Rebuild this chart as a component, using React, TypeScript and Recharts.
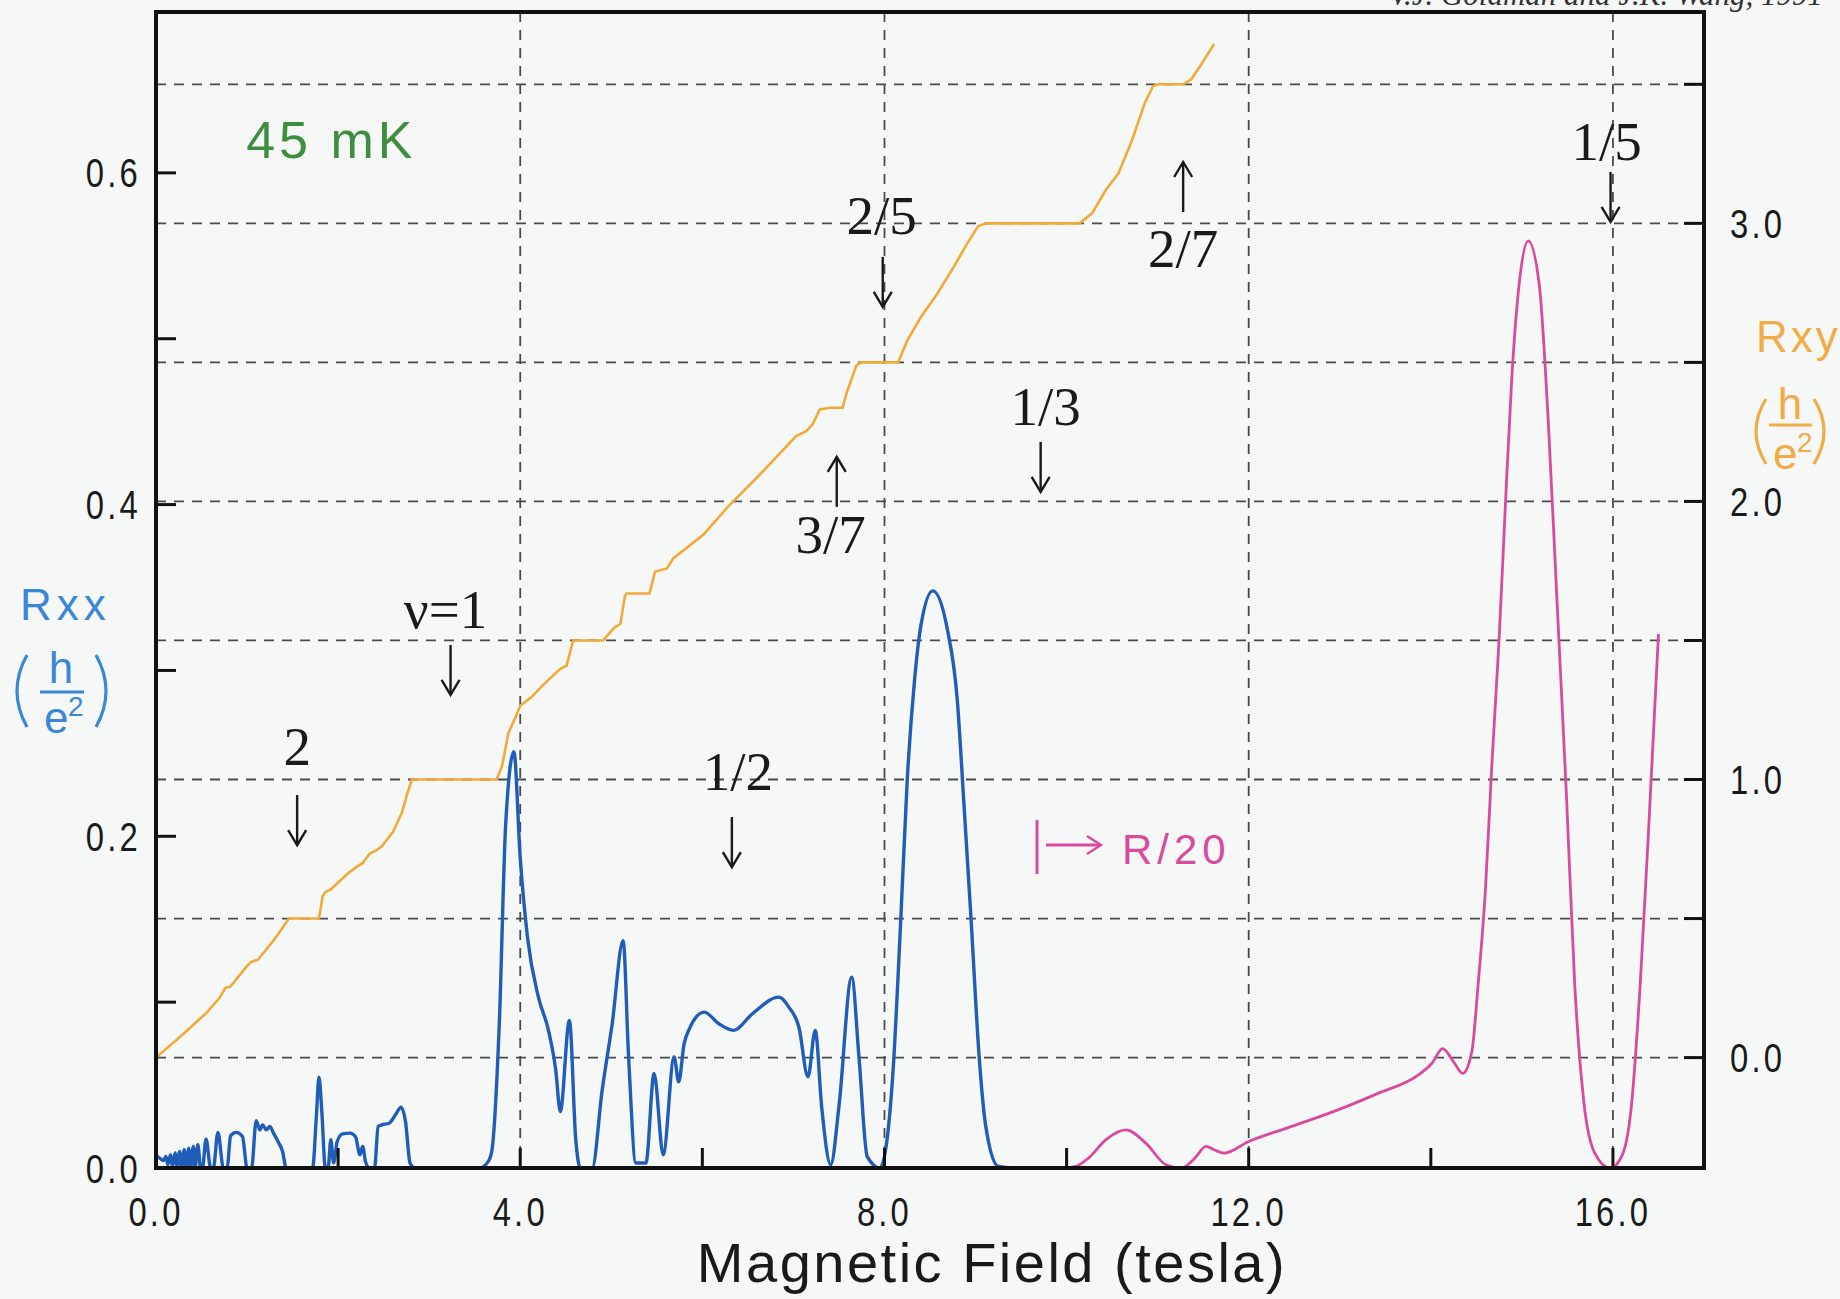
import { LineChart, Line, XAxis, YAxis, CartesianGrid, ReferenceDot } from "recharts";

// Rxx (h/e^2), tesla -> value, left axis
const RXX: [number, number][] = [
  [0.0, 0.0075], [0.04, 0.006], [0.08, 0.0045], [0.11, 0.007], [0.13, 0.002], [0.16, 0.008], [0.18, 0.001],
  [0.21, 0.009], [0.23, 0.001], [0.26, 0.01], [0.28, 0.0], [0.31, 0.011], [0.33, 0.0], [0.36, 0.012],
  [0.38, 0.0], [0.41, 0.013], [0.43, 0.0], [0.46, 0.014], [0.49, 0.0], [0.51, 0.0], [0.55, 0.0175],
  [0.6, 0.0], [0.63, 0.0], [0.68, 0.0215], [0.74, 0.0], [0.78, 0.0], [0.82, 0.0195], [0.88, 0.0215],
  [0.95, 0.019], [1.0, 0.0], [1.05, 0.0], [1.1, 0.0285], [1.14, 0.023], [1.17, 0.026], [1.21, 0.023],
  [1.25, 0.025], [1.29, 0.021], [1.34, 0.016], [1.39, 0.01], [1.43, 0.0], [1.72, 0.0], [1.76, 0.03],
  [1.79, 0.0548], [1.82, 0.035], [1.86, 0.0], [1.89, 0.0], [1.92, 0.017], [1.95, 0.003], [1.99, 0.016],
  [2.05, 0.0206], [2.13, 0.021], [2.19, 0.019], [2.24, 0.008], [2.27, 0.013], [2.3, 0.004], [2.34, 0.0],
  [2.4, 0.0], [2.44, 0.025], [2.48, 0.026], [2.56, 0.027], [2.64, 0.033], [2.69, 0.0367], [2.74, 0.028],
  [2.79, 0.003], [2.84, 0.0], [3.55, 0.0], [3.65, 0.004], [3.69, 0.011], [3.77, 0.087], [3.84, 0.207],
  [3.93, 0.251], [4.0, 0.187], [4.08, 0.139], [4.2, 0.103], [4.31, 0.083], [4.39, 0.059], [4.44, 0.034],
  [4.54, 0.089], [4.61, 0.017], [4.66, 0.0], [4.79, 0.0], [4.9, 0.047], [5.01, 0.087], [5.13, 0.137],
  [5.19, 0.067], [5.27, 0.003], [5.38, 0.003], [5.47, 0.057], [5.57, 0.008], [5.69, 0.067], [5.74, 0.052],
  [5.8, 0.075], [5.85, 0.083], [6.02, 0.094], [6.18, 0.087], [6.34, 0.083], [6.55, 0.093], [6.84, 0.103],
  [6.95, 0.097], [7.06, 0.085], [7.16, 0.055], [7.24, 0.083], [7.31, 0.037], [7.41, 0.002], [7.5, 0.037],
  [7.64, 0.115], [7.72, 0.067], [7.81, 0.007], [7.95, 0.0], [8.09, 0.055], [8.18, 0.151], [8.25, 0.234],
  [8.33, 0.294], [8.4, 0.327], [8.53, 0.348], [8.69, 0.325], [8.8, 0.282], [8.87, 0.222], [8.95, 0.151],
  [9.04, 0.067], [9.11, 0.026], [9.25, 0.001], [9.45, 0.0],
];

// Rxx / 20 above ~9.5 T, left axis
const RXX_OVER_20: [number, number][] = [
  [9.45, 0.0], [9.95, 0.0], [10.1, 0.001], [10.24, 0.006], [10.43, 0.017], [10.65, 0.023], [10.87, 0.015],
  [11.09, 0.002], [11.26, 0.0], [11.41, 0.006], [11.53, 0.013], [11.62, 0.011], [11.73, 0.009], [12.0, 0.016],
  [12.44, 0.0245], [12.93, 0.034], [13.42, 0.045], [13.86, 0.056], [14.01, 0.063], [14.13, 0.072],
  [14.25, 0.064], [14.35, 0.057], [14.45, 0.07], [14.52, 0.111], [14.6, 0.168], [14.67, 0.243],
  [14.75, 0.319], [14.82, 0.401], [14.89, 0.477], [14.97, 0.533], [15.07, 0.559], [15.19, 0.533],
  [15.29, 0.45], [15.39, 0.337], [15.49, 0.224], [15.58, 0.111], [15.68, 0.04], [15.8, 0.009],
  [15.97, 0.0], [16.1, 0.0075], [16.2, 0.036], [16.3, 0.111], [16.4, 0.213], [16.5, 0.322],
];

// Rxy (h/e^2), right axis
const RXY: [number, number][] = [
  [0.0, 0.0], [0.3, 0.085], [0.55, 0.16], [0.7, 0.215], [0.76, 0.25], [0.82, 0.256], [1.0, 0.33],
  [1.05, 0.345], [1.12, 0.352], [1.3, 0.425], [1.46, 0.5], [1.79, 0.5], [1.83, 0.58], [1.86, 0.595],
  [1.92, 0.605], [2.1, 0.66], [2.2, 0.685], [2.27, 0.7], [2.35, 0.735], [2.42, 0.745], [2.48, 0.76],
  [2.6, 0.81], [2.7, 0.88], [2.76, 0.95], [2.81, 1.0], [3.74, 1.0], [3.8, 1.048], [3.87, 1.167],
  [3.95, 1.226], [4.0, 1.265], [4.13, 1.298], [4.26, 1.343], [4.44, 1.398], [4.51, 1.41], [4.58, 1.5],
  [4.91, 1.5], [4.99, 1.53], [5.03, 1.545], [5.1, 1.56], [5.15, 1.66], [5.17, 1.669], [5.42, 1.669],
  [5.48, 1.747], [5.61, 1.759], [5.68, 1.795], [6.01, 1.88], [6.3, 1.988], [6.63, 2.096], [7.03, 2.235],
  [7.14, 2.253], [7.21, 2.277], [7.29, 2.331], [7.4, 2.337], [7.54, 2.337], [7.58, 2.386], [7.69, 2.488],
  [7.74, 2.5], [8.15, 2.5], [8.25, 2.578], [8.4, 2.663], [8.58, 2.747], [8.76, 2.843], [8.91, 2.928],
  [9.03, 2.99], [9.12, 3.0], [10.14, 3.0], [10.28, 3.036], [10.43, 3.12], [10.57, 3.18], [10.72, 3.3],
  [10.86, 3.434], [10.95, 3.494], [11.01, 3.5], [11.28, 3.5], [11.37, 3.518], [11.48, 3.572], [11.62, 3.645],
];

const X_TICKS = [0, 2, 4, 6, 8, 10, 12, 14, 16];
const X_TOP_TICKS = [2, 4, 6, 8, 10, 12, 14, 16];
const X_GRID = [4, 8, 12, 16];
const X_LABELS: Record<string, string> = { "0": "0.0", "4": "4.0", "8": "8.0", "12": "12.0", "16": "16.0" };
const LEFT_TICKS = [0, 0.1, 0.2, 0.3, 0.4, 0.5, 0.6];
const LEFT_LABELS: Record<string, string> = { "0": "0.0", "0.2": "0.2", "0.4": "0.4", "0.6": "0.6" };
const RIGHT_TICKS = [0, 0.5, 1, 1.5, 2, 2.5, 3, 3.5];
const RIGHT_LABELS: Record<string, string> = { "0": "0.0", "1": "1.0", "2": "2.0", "3": "3.0" };

// filling-factor labels: x in tesla, y = baseline in Rxy units
const ANNOTATIONS = [
  { text: "2", x: 1.55, y: 1.052, arrow: "down", gap: 30, dx: 0 },
  { text: "\u03bd=1", x: 3.18, y: 1.545, arrow: "down", gap: 17, dx: 5 },
  { text: "1/2", x: 6.39, y: 0.962, arrow: "down", gap: 27, dx: -6 },
  { text: "3/7", x: 7.41, y: 1.815, arrow: "up", gap: 46, dx: 6 },
  { text: "2/5", x: 7.97, y: 2.962, arrow: "down", gap: 23, dx: 1 },
  { text: "1/3", x: 9.77, y: 2.275, arrow: "down", gap: 17, dx: -5 },
  { text: "2/7", x: 11.28, y: 2.843, arrow: "up", gap: 55, dx: 0 },
  { text: "1/5", x: 15.93, y: 3.228, arrow: "down", gap: 12, dx: 4 },
];

const BLUE = "#1f5db8";
const ORANGE = "#f3a938";
const MAGENTA = "#d94a9f";
const GREEN = "#3f8e3f";
const LABEL_BLUE = "#3a87d8";
const LABEL_ORANGE = "#f2ab45";
const INK = "#1a1a1a";
const SANS = "'Liberation Sans', Arial, Helvetica, sans-serif";
const SERIF = "'Liberation Serif', 'Times New Roman', serif";

const toRows = (pts: [number, number][]) => pts.map(([b, v]) => ({ b, v }));
const key = (v: number) => String(Math.round(v * 10) / 10);

const axisLine = { stroke: "#111", strokeWidth: 4, strokeLinecap: "square" as const };
const tickLine = { stroke: "#111", strokeWidth: 3 };

// condensed tick labels, like the Helvetica Narrow of the original
function makeTick(labels: Record<string, string>, anchor: "start" | "middle" | "end", dy: string) {
  return (p: { x?: number; y?: number; payload?: { value: number } }) => {
    const text = labels[key(p.payload?.value ?? 0)] ?? "";
    if (!text) return <g />;
    return (
      <text
        transform={`translate(${p.x},${p.y}) scale(0.8,1)`}
        textAnchor={anchor}
        dy={dy}
        fontFamily={SANS}
        fontSize={41}
        letterSpacing={4}
        fill={INK}
      >
        {text}
      </text>
    );
  };
}

function Arrow({ x, y0, y1 }: { x: number; y0: number; y1: number }) {
  // y1 is the tip
  const dir = y1 > y0 ? 1 : -1;
  return (
    <g stroke={INK} strokeWidth={2.4} fill="none">
      <line x1={x} y1={y0} x2={x} y2={y1} />
      <path d={`M${x - 9},${y1 - dir * 15} L${x},${y1} L${x + 9},${y1 - dir * 15}`} />
    </g>
  );
}

function annoShape(a: (typeof ANNOTATIONS)[number]) {
  return (p: { cx?: number; cy?: number }) => {
    const cx = p.cx ?? 0;
    const cy = p.cy ?? 0;
    const ax = cx + a.dx;
    return (
      <g>
        <text x={cx} y={cy} textAnchor="middle" fontFamily={SERIF} fontSize={55} fill={INK}>
          {a.text}
        </text>
        {a.arrow === "down" ? (
          <Arrow x={ax} y0={cy + a.gap} y1={cy + a.gap + 50} />
        ) : (
          <Arrow x={ax} y0={cy - a.gap} y1={cy - a.gap - 50} />
        )}
      </g>
    );
  };
}

export default function App() {
  return (
    <div style={{ position: "absolute", left: 0, top: 0, width: 1840, height: 1299, background: "#f6f8f8", overflow: "hidden" }}>
      <LineChart width={1840} height={1299} margin={{ top: 10, right: 36, bottom: 51, left: 56 }}>
        <CartesianGrid xAxisId="grid" yAxisId="R" stroke="#4a4a4a" strokeWidth={1.8} strokeDasharray="10 8" />
        <XAxis
          xAxisId="bottom"
          dataKey="b"
          type="number"
          domain={[0, 17]}
          allowDataOverflow
          ticks={X_TICKS}
          interval={0}
          tickSize={-20}
          tickMargin={49}
          height={80}
          axisLine={axisLine}
          tickLine={tickLine}
          tick={makeTick(X_LABELS, "middle", "0.71em")}
        />
        <XAxis
          xAxisId="top"
          orientation="top"
          dataKey="b"
          type="number"
          domain={[0, 17]}
          allowDataOverflow
          ticks={X_TOP_TICKS}
          interval={0}
          tickSize={-20}
          height={2}
          tick={false}
          axisLine={axisLine}
          tickLine={tickLine}
        />
        <XAxis xAxisId="grid" dataKey="b" type="number" domain={[0, 17]} allowDataOverflow ticks={X_GRID} hide height={0} />
        <YAxis
          yAxisId="L"
          type="number"
          domain={[0, 0.697]}
          allowDataOverflow
          ticks={LEFT_TICKS}
          interval={0}
          tickSize={-20}
          tickMargin={35}
          width={100}
          axisLine={axisLine}
          tickLine={tickLine}
          tick={makeTick(LEFT_LABELS, "end", "0.355em")}
        />
        <YAxis
          yAxisId="R"
          orientation="right"
          type="number"
          domain={[-0.397, 3.76]}
          allowDataOverflow
          ticks={RIGHT_TICKS}
          interval={0}
          tickSize={-20}
          tickMargin={46}
          width={100}
          axisLine={axisLine}
          tickLine={tickLine}
          tick={makeTick(RIGHT_LABELS, "start", "0.355em")}
        />
        <Line
          data={toRows(RXY)}
          dataKey="v"
          xAxisId="bottom"
          yAxisId="R"
          type="linear"
          stroke={ORANGE}
          strokeWidth={2.6}
          dot={false}
          isAnimationActive={false}
        />
        <Line
          data={toRows(RXX)}
          dataKey="v"
          xAxisId="bottom"
          yAxisId="L"
          type="monotone"
          stroke={BLUE}
          strokeWidth={3.4}
          dot={false}
          isAnimationActive={false}
        />
        <Line
          data={toRows(RXX_OVER_20)}
          dataKey="v"
          xAxisId="bottom"
          yAxisId="L"
          type="monotone"
          stroke={MAGENTA}
          strokeWidth={2.8}
          dot={false}
          isAnimationActive={false}
        />
        {ANNOTATIONS.map((a) => (
          <ReferenceDot key={a.text} xAxisId="bottom" yAxisId="R" x={a.x} y={a.y} r={0} shape={annoShape(a)} />
        ))}
        <ReferenceDot
          xAxisId="bottom"
          yAxisId="R"
          x={0.99}
          y={3.235}
          r={0}
          shape={(p: { cx?: number; cy?: number }) => (
            <text x={p.cx} y={p.cy} fontFamily={SANS} fontSize={52} letterSpacing={4} fill={GREEN}>
              45 mK
            </text>
          )}
        />
        <ReferenceDot
          xAxisId="bottom"
          yAxisId="R"
          x={9.675}
          y={0.696}
          r={0}
          shape={(p: { cx?: number; cy?: number }) => {
            const cx = p.cx ?? 0;
            const cy = p.cy ?? 0;
            return (
              <g>
                <g stroke={MAGENTA} strokeWidth={3} fill="none">
                  <line x1={cx} y1={cy - 44} x2={cx} y2={cy + 10} />
                  <line x1={cx + 9} y1={cy - 19} x2={cx + 64} y2={cy - 19} />
                  <path d={`M${cx + 50},${cy - 28} L${cx + 64},${cy - 19} L${cx + 50},${cy - 10}`} strokeWidth={2.4} />
                </g>
                <text x={cx + 85} y={cy} fontFamily={SANS} fontSize={42} letterSpacing={5} fill={MAGENTA}>
                  R/20
                </text>
              </g>
            );
          }}
        />
      </LineChart>

      <svg width={1840} height={1299} style={{ position: "absolute", left: 0, top: 0, pointerEvents: "none" }}>
        <text x={1389} y={5} fontFamily={SERIF} fontStyle="italic" fontSize={31} fill="#333">
          V.J. Goldman and J.K. Wang, 1991
        </text>

        <g fill={LABEL_BLUE} fontFamily={SANS}>
          <text x={20} y={620} fontSize={44} letterSpacing={5}>Rxx</text>
          <path d="M27,655 Q7,691 27,727" stroke={LABEL_BLUE} strokeWidth={3.2} fill="none" />
          <text x={61} y={683} fontSize={44} textAnchor="middle">h</text>
          <line x1={40} y1={692} x2={84} y2={692} stroke={LABEL_BLUE} strokeWidth={3} />
          <text x={44} y={733} fontSize={44}>e</text>
          <text x={68} y={716} fontSize={28}>2</text>
          <path d="M96,655 Q116,691 96,727" stroke={LABEL_BLUE} strokeWidth={3.2} fill="none" />
        </g>

        <g fill={LABEL_ORANGE} fontFamily={SANS}>
          <text x={1756} y={352} fontSize={44} letterSpacing={3}>Rxy</text>
          <path d="M1766,399 Q1746,431 1766,464" stroke={LABEL_ORANGE} strokeWidth={3.2} fill="none" />
          <text x={1790} y={419} fontSize={44} textAnchor="middle">h</text>
          <line x1={1769} y1={425} x2={1812} y2={425} stroke={LABEL_ORANGE} strokeWidth={3} />
          <text x={1773} y={469} fontSize={44}>e</text>
          <text x={1797} y={452} fontSize={28}>2</text>
          <path d="M1814,399 Q1834,431 1814,464" stroke={LABEL_ORANGE} strokeWidth={3.2} fill="none" />
        </g>

        <text x={992} y={1282} textAnchor="middle" fontFamily={SANS} fontSize={56} letterSpacing={2.5} fill={INK}>
          Magnetic Field (tesla)
        </text>
      </svg>
    </div>
  );
}
